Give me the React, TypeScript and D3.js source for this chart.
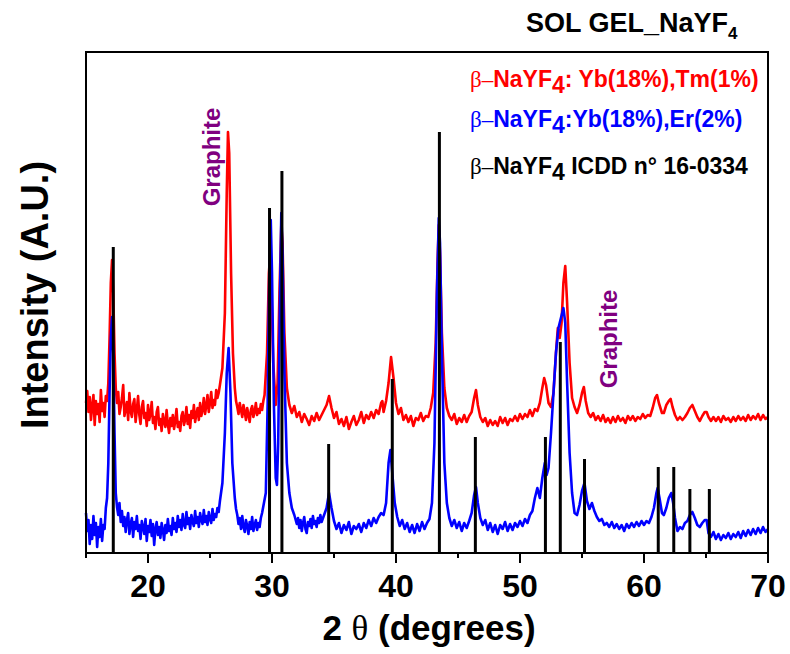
import React from "react";
import * as d3 from "d3";

// [2θ (degrees), intensity (A.U.)]
const redData: [number, number][] = [
[15.0,150],[15.1,162],[15.2,141],[15.3,156],[15.4,133],[15.5,147],[15.6,158],[15.7,128],[15.8,152],[15.9,139],[16.0,149],[16.1,131],[16.2,163],[16.3,142],[16.4,150],[16.5,136],[16.6,157],[16.7,152],
[16.8,170],[16.9,215],[17.0,270],[17.1,293],[17.2,260],[17.3,200],[17.4,165],
[17.5,150],[17.6,161],[17.7,139],[17.8,146],[17.9,155],[18.0,168],[18.1,137],[18.2,144],[18.3,151],[18.4,133],[18.5,160],[18.6,142],[18.7,136],[18.8,149],[18.9,154],
[19.0,131],[19.1,143],[19.2,157],[19.3,138],[19.4,129],[19.5,146],[19.6,152],[19.7,135],[19.8,140],[19.9,127],
[20.0,148],[20.1,133],[20.2,139],[20.3,151],[20.4,130],[20.5,136],[20.6,124],[20.7,141],[20.8,146],[20.9,128],
[21.0,134],[21.1,122],[21.2,139],[21.3,131],[21.4,126],[21.5,143],[21.6,129],[21.7,120],[21.8,135],[21.9,127],
[22.0,138],[22.1,124],[22.2,132],[22.3,144],[22.4,126],[22.5,131],[22.6,122],[22.7,137],[22.8,141],[22.9,128],
[23.0,133],[23.1,146],[23.2,129],[23.3,138],[23.4,125],[23.5,142],[23.6,135],[23.7,148],[23.8,131],[23.9,139],
[24.0,145],[24.1,133],[24.2,150],[24.3,137],[24.4,143],[24.5,155],[24.6,139],[24.7,147],[24.8,158],[24.9,141],
[25.0,150],[25.1,161],[25.2,145],[25.3,153],[25.4,148],[25.5,163],[25.6,155],[25.7,160],[25.8,168],
[26.0,185],[26.2,240],[26.35,360],[26.45,421],[26.55,400],[26.7,280],[26.85,200],
[27.0,165],[27.1,152],[27.2,146],[27.3,139],[27.4,150],[27.5,143],[27.6,136],[27.7,148],[27.8,141],[27.9,133],
[28.0,145],[28.1,138],[28.2,131],[28.3,143],[28.4,147],[28.5,136],[28.6,141],[28.7,150],[28.8,138],[28.9,144],
[29.0,140],[29.1,149],[29.2,143],[29.3,152],[29.4,158],
[29.6,200],[29.75,280],[29.85,298],[29.95,260],[30.1,190],[30.3,148],[30.45,170],[30.6,260],[30.75,328],[30.85,310],[31.0,220],[31.2,165],[31.4,148],
[31.6,140],[31.8,147],[32.0,136],[32.2,141],[32.4,131],[32.6,139],[32.8,134],[33.0,128],[33.2,137],[33.4,132],[33.6,140],[33.8,133],[34.0,138],[34.2,143],[34.4,148],[34.6,157],[34.8,145],
[35.0,135],[35.2,141],[35.4,129],[35.6,134],[35.8,127],[36.0,136],[36.2,124],[36.4,131],[36.6,137],[36.8,128],[37.0,133],[37.2,141],[37.4,130],[37.6,138],[37.8,134],[38.0,141],[38.2,135],[38.4,143],[38.6,139],[38.8,150],[38.9,152],[39.0,141],[39.2,152],[39.4,170],[39.6,196],[39.8,175],[40.0,150],
[40.2,139],[40.4,145],[40.6,133],[40.8,138],[41.0,131],[41.2,137],[41.4,127],[41.6,135],[41.8,133],[42.0,140],[42.2,132],[42.4,137],[42.6,136],[42.8,145],[43.0,160],[43.2,210],[43.35,290],[43.45,328],[43.55,300],[43.7,220],[43.9,165],
[44.1,145],[44.3,137],[44.5,133],[44.7,139],[44.9,129],[45.1,135],[45.3,131],[45.5,138],[45.7,131],[45.9,137],[46.1,141],[46.3,155],[46.45,163],[46.6,148],[46.8,136],
[47.0,131],[47.2,135],[47.4,127],[47.6,133],[47.8,128],[48.0,132],[48.2,127],[48.4,136],[48.6,130],[48.8,135],[49.0,128],[49.2,134],[49.4,132],[49.6,137],[49.8,132],[50.0,139],[50.2,134],[50.4,139],[50.6,136],[50.8,143],[51.0,137],[51.2,144],[51.4,142],[51.6,150],[51.8,165],[51.95,175],[52.1,168],[52.3,150],[52.5,146],[52.7,160],[52.9,200],[53.05,225],[53.2,215],[53.35,230],[53.5,270],[53.65,287],[53.8,250],[54.0,190],[54.2,155],[54.4,146],[54.6,140],[54.8,148],[55.0,160],[55.15,166],[55.3,152],[55.5,140],[55.7,136],[55.9,140],
[56.1,133],[56.3,137],[56.5,132],[56.7,138],[56.9,131],[57.1,135],[57.3,130],[57.5,136],[57.7,131],[57.9,137],[58.1,132],[58.3,135],[58.5,130],[58.7,137],[58.9,133],[59.1,137],[59.3,132],[59.5,136],[59.7,134],[59.9,139],[60.1,135],[60.3,138],[60.5,137],[60.7,145],[60.9,155],[61.05,158],[61.2,150],[61.45,140],[61.6,140],[61.8,148],[62.0,152],[62.15,154],[62.3,146],[62.5,138],[62.7,133],[62.9,136],[63.1,133],[63.3,136],[63.5,140],[63.7,145],[63.9,148],[64.1,142],[64.3,136],[64.5,132],[64.7,137],[64.9,141],[65.05,141],[65.2,136],[65.4,132],[65.6,136],[65.8,132],[66.0,136],[66.2,131],[66.4,137],[66.6,133],[66.8,135],[67.0,131],[67.2,136],[67.4,132],[67.6,137],[67.8,133],[68.0,136],[68.2,132],[68.4,138],[68.6,133],[68.8,137],[69.0,134],[69.2,139],[69.4,133],[69.6,138],[69.8,134],[70.0,136]
];

const blueData: [number, number][] = [
[15.0,40],[15.1,22],[15.2,33],[15.3,9],[15.4,28],[15.5,14],[15.6,37],[15.7,18],[15.8,30],[15.9,6],[16.0,26],[16.1,16],[16.2,34],[16.3,12],[16.4,28],[16.5,24],[16.6,45],[16.7,55],
[16.8,90],[16.9,160],[17.0,215],[17.1,236],[17.2,200],[17.3,120],[17.4,60],[17.5,46],
[17.6,38],[17.7,50],[17.8,31],[17.9,42],[18.0,27],[18.1,36],[18.2,21],[18.3,33],[18.4,40],[18.5,19],[18.6,29],[18.7,35],[18.8,16],[18.9,31],
[19.0,24],[19.1,37],[19.2,22],[19.3,28],[19.4,14],[19.5,32],[19.6,26],[19.7,19],[19.8,34],[19.9,12],
[20.0,27],[20.1,21],[20.2,33],[20.3,17],[20.4,29],[20.5,8],[20.6,24],[20.7,31],[20.8,18],[20.9,26],
[21.0,15],[21.1,30],[21.2,23],[21.3,13],[21.4,28],[21.5,20],[21.6,34],[21.7,22],[21.8,27],[21.9,18],
[22.0,35],[22.1,24],[22.2,30],[22.3,21],[22.4,37],[22.5,26],[22.6,33],[22.7,23],[22.8,39],[22.9,28],
[23.0,25],[23.1,41],[23.2,29],[23.3,35],[23.4,24],[23.5,38],[23.6,31],[23.7,27],[23.8,42],[23.9,30],
[24.0,36],[24.1,26],[24.2,40],[24.3,33],[24.4,29],[24.5,43],[24.6,31],[24.7,37],[24.8,28],[24.9,41],
[25.0,34],[25.1,30],[25.2,44],[25.3,33],[25.4,39],[25.5,36],[25.6,45],[25.7,41],[25.8,52],
[26.0,70],[26.2,120],[26.35,180],[26.5,205],[26.65,160],[26.8,90],
[27.0,55],[27.1,44],[27.2,38],[27.3,29],[27.4,35],[27.5,24],[27.6,37],[27.7,26],[27.8,21],[27.9,33],
[28.0,27],[28.1,19],[28.2,31],[28.3,24],[28.4,36],[28.5,22],[28.6,28],[28.7,33],[28.8,23],[28.9,30],
[29.0,26],[29.1,35],[29.2,40],[29.35,50],[29.5,60],[29.65,150],[29.8,300],[29.9,333],[30.0,280],[30.15,150],[30.3,75],[30.4,68],[30.5,110],[30.65,260],[30.75,340],[30.85,300],[31.0,180],[31.2,90],[31.4,60],[31.6,45],[31.8,38],
[32.0,29],[32.1,35],[32.2,25],[32.3,33],[32.4,22],[32.5,30],[32.6,36],[32.7,24],[32.8,20],[32.9,31],[33.0,27],[33.1,34],[33.2,25],[33.3,37],[33.4,29],[33.5,32],[33.6,26],[33.7,35],[33.8,30],[33.9,38],
[34.0,31],[34.2,38],[34.4,45],[34.6,60],[34.8,45],[35.0,32],[35.2,24],[35.4,30],[35.6,20],[35.8,28],[36.0,23],[36.2,31],[36.4,19],[36.6,27],[36.8,24],[37.0,29],[37.2,21],[37.4,30],[37.6,25],[37.8,33],[38.0,27],[38.2,35],[38.4,30],[38.6,36],[38.8,40],[39.0,38],[39.2,50],[39.4,90],[39.55,103],[39.7,80],[39.9,50],
[40.1,36],[40.3,27],[40.5,33],[40.7,24],[40.9,30],[41.1,21],[41.3,28],[41.5,20],[41.7,29],[41.9,22],[42.1,31],[42.3,24],[42.5,30],[42.7,34],[42.9,50],[43.1,110],[43.3,260],[43.45,335],[43.55,310],[43.7,200],[43.9,90],
[44.1,50],[44.3,35],[44.5,27],[44.7,33],[44.9,25],[45.1,31],[45.3,22],[45.5,30],[45.7,25],[45.9,32],[46.1,40],[46.3,58],[46.45,66],[46.6,50],[46.8,35],
[47.0,28],[47.2,33],[47.4,23],[47.6,30],[47.8,21],[48.0,28],[48.2,19],[48.4,28],[48.6,24],[48.8,31],[49.0,22],[49.2,29],[49.4,23],[49.6,30],[49.8,26],[50.0,32],[50.2,27],[50.4,34],[50.6,30],[50.8,38],
[51.0,42],[51.2,55],[51.4,65],[51.6,55],[51.8,75],[52.0,90],[52.15,78],[52.3,85],[52.5,120],[52.7,160],[52.9,200],[53.1,225],[53.3,235],[53.5,245],[53.65,230],[53.8,170],[54.0,100],[54.2,60],[54.4,40],[54.6,38],[54.8,48],[55.0,62],[55.2,70],[55.4,52],[55.6,44],[55.8,50],
[56.0,42],[56.2,36],[56.4,32],[56.6,34],[56.8,28],[57.0,30],[57.2,26],[57.4,31],[57.6,25],[57.8,29],[58.0,24],[58.2,28],[58.4,22],[58.6,29],[58.8,25],[59.0,30],[59.2,26],[59.4,31],[59.6,27],[59.8,32],
[60.0,28],[60.2,32],[60.4,30],[60.6,36],[60.8,45],[61.0,60],[61.1,65],[61.25,55],[61.45,40],[61.6,38],[61.8,45],[62.0,55],[62.2,60],[62.35,50],[62.5,35],[62.7,22],[62.9,26],[63.1,24],[63.3,30],[63.5,32],[63.7,38],[63.9,41],[64.1,35],[64.3,28],[64.5,26],[64.7,30],[64.9,33],[65.05,33],
[65.2,20],[65.4,16],[65.6,21],[65.8,14],[66.0,19],[66.2,13],[66.4,18],[66.6,15],[66.8,20],[67.0,14],[67.2,19],[67.4,16],[67.6,21],[67.8,15],[68.0,22],[68.2,17],[68.4,23],[68.6,18],[68.8,24],[69.0,19],[69.2,25],[69.4,20],[69.6,26],[69.8,21],[70.0,24]
];

// ICDD 16-0334 reference lines
const refX = [17.2,29.8,30.8,34.57,39.7,43.5,46.4,52.05,53.25,55.2,61.15,62.4,63.7,65.27];
const refY = [306,345,382,109,174,421,116,116,211,94,86,86,64,64];

const xTicks = [20,30,40,50,60,70];
const xMinor = [15,25,35,45,55,65];

const W = 790, H = 654;
const L = 86, R = 768, T = 52, B = 553;
const FONT = "'Liberation Sans', Arial, Helvetica, sans-serif";
const SERIF = "'Liberation Serif', 'Times New Roman', serif";

export default function App() {
  const x = d3.scaleLinear().domain([15, 70]).range([L, R]);
  const y = d3.scaleLinear().domain([0, 501]).range([B, T]);
  const line = d3.line<[number, number]>().x(d => x(d[0])).y(d => y(d[1]));
  const red = line(redData) || "";
  const blue = line(blueData) || "";

  return (
    <svg width={W} height={H} style={{ position: "absolute", left: 0, top: 0, background: "#fff" }}>
      <rect x={0} y={0} width={W} height={H} fill="#fff" />
      <path d={red} fill="none" stroke="#ff0000" strokeWidth={2.6} strokeLinejoin="round" />
      <path d={blue} fill="none" stroke="#0000ff" strokeWidth={2.6} strokeLinejoin="round" />
      {refX.map((v, i) => (
        <line key={"r" + i} x1={x(v)} x2={x(v)} y1={y(0)} y2={y(refY[i])} stroke="#000" strokeWidth={3} />
      ))}
      <rect x={L} y={T} width={R - L} height={B - T} fill="none" stroke="#000" strokeWidth={2} />
      {xTicks.map(t => (
        <g key={"t" + t}>
          <line x1={x(t)} x2={x(t)} y1={B} y2={B + 10} stroke="#000" strokeWidth={2} />
          <text x={x(t)} y={597} textAnchor="middle" fontFamily={FONT} fontWeight="bold" fontSize={32}>{t}</text>
        </g>
      ))}
      {xMinor.map(t => (
        <line key={"m" + t} x1={x(t)} x2={x(t)} y1={B} y2={B + 5} stroke="#000" strokeWidth={2} />
      ))}
      <text x={429} y={640} textAnchor="middle" fontFamily={FONT} fontWeight="bold" fontSize={35}>
        2 <tspan fontFamily={SERIF} fontWeight="normal">θ</tspan> (degrees)
      </text>
      <text transform="translate(48,295) rotate(-90)" textAnchor="middle" fontFamily={FONT} fontWeight="bold" fontSize={38}>
        Intensity (A.U.)
      </text>
      <text x={526} y={32} fontFamily={FONT} fontWeight="bold" fontSize={27}>
        SOL GEL_NaYF<tspan fontSize={17} dy={7}>4</tspan>
      </text>
      <g fontFamily={FONT} fontWeight="bold" fontSize={23}>
        <text x={470} y={87} fill="#ff0000">
          <tspan fontFamily={SERIF} fontWeight="normal">β–</tspan>NaYF<tspan dy={6}>4</tspan><tspan dy={-6}>: Yb(18%),Tm(1%)</tspan>
        </text>
        <text x={470} y={127} fill="#0000ff">
          <tspan fontFamily={SERIF} fontWeight="normal">β–</tspan>NaYF<tspan dy={6}>4</tspan><tspan dy={-6}>:Yb(18%),Er(2%)</tspan>
        </text>
        <text x={470} y={174} fill="#000">
          <tspan fontFamily={SERIF} fontWeight="normal">β–</tspan>NaYF<tspan dy={6}>4</tspan><tspan dy={-6}> ICDD n° 16-0334</tspan>
        </text>
      </g>
      <text transform="translate(220,157) rotate(-90)" textAnchor="middle" fontFamily={FONT} fontWeight="bold" fontSize={24} fill="#800080">Graphite</text>
      <text transform="translate(617,339) rotate(-90)" textAnchor="middle" fontFamily={FONT} fontWeight="bold" fontSize={24} fill="#800080">Graphite</text>
    </svg>
  );
}
